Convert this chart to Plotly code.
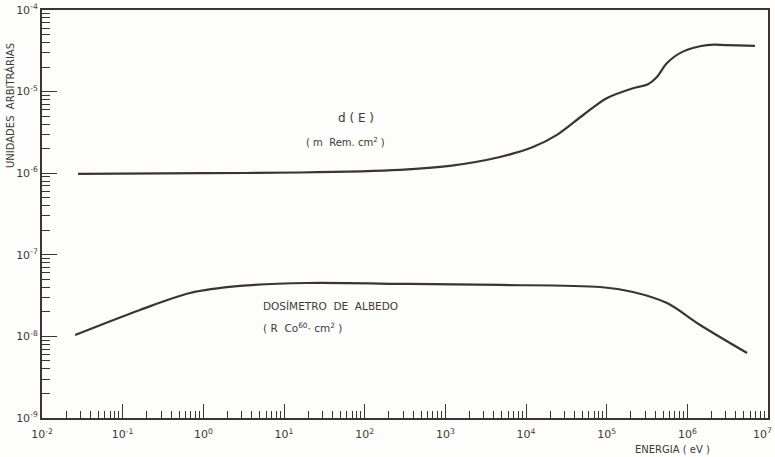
import plotly.graph_objects as go

# d(E) curve (m Rem . cm^2)
dE_energy = [0.028, 1.0, 15.8, 274, 1.14e3, 4.76e3, 1.22e4, 2.42e4, 5.08e4, 1.0e5,
             2.12e5, 3.25e5, 4.2e5, 5.6e5, 8.8e5, 1.75e6, 3.1e6, 6.9e6]
dE_value = [0.98e-6, 1.0e-6, 1.02e-6, 1.1e-6, 1.23e-6, 1.58e-6, 2.09e-6, 2.95e-6, 5.13e-6, 8.3e-6,
            1.10e-5, 1.23e-5, 1.51e-5, 2.24e-5, 3.09e-5, 3.72e-5, 3.72e-5, 3.63e-5]

# Dosimetro de albedo curve (R Co60 . cm^2)
alb_energy = [0.0257, 0.164, 0.684, 2.85, 19.3, 365, 4.75e3, 8.26e4, 2.12e5, 5.6e5, 1.44e6, 5.5e6]
alb_value = [1.04e-8, 2.11e-8, 3.40e-8, 4.15e-8, 4.51e-8, 4.39e-8, 4.27e-8, 4.03e-8, 3.50e-8,
             2.56e-8, 1.38e-8, 6.26e-9]

x_exps = list(range(-2, 8))
y_exps = list(range(-9, -3))
x_ticktext = ["10<sup>%d</sup>" % e for e in x_exps]
y_ticktext = ["10<sup>%d</sup>" % e for e in y_exps]

ink = "#3a3530"
txt = "#3d3935"
minor_x = [k * 10.0 ** e for e in x_exps[:-1] for k in range(2, 10)]
minor_y = [k * 10.0 ** e for e in y_exps[:-1] for k in range(2, 10)]

fig = go.Figure()
fig.add_trace(go.Scatter(x=dE_energy, y=dE_value, mode="lines",
                         line=dict(color=ink, width=2.2, shape="spline", smoothing=0.9),
                         showlegend=False))
fig.add_trace(go.Scatter(x=alb_energy, y=alb_value, mode="lines",
                         line=dict(color=ink, width=2.2, shape="spline", smoothing=0.9),
                         showlegend=False))

font_tick = dict(family="DejaVu Sans", size=11, color=txt)
# last x label (at the right frame edge) is drawn as an annotation so it stays inside the page
fig.update_xaxes(type="log", range=[-2, 7], showgrid=False, zeroline=False,
                 showline=True, linecolor=ink, linewidth=2, mirror=True,
                 tickmode="array", tickvals=[10.0 ** e for e in x_exps],
                 ticktext=x_ticktext[:-1] + [""],
                 ticks="inside", ticklen=14, tickwidth=1, tickcolor=ink, tickfont=font_tick,
                 ticklabelstandoff=5, automargin=False,
                 minor=dict(tickmode="array", tickvals=minor_x, ticks="inside", ticklen=7,
                            tickwidth=1, tickcolor=ink, showgrid=False))
fig.update_yaxes(type="log", range=[-9, -4], showgrid=False, zeroline=False,
                 showline=True, linecolor=ink, linewidth=2, mirror=True,
                 tickmode="array", tickvals=[10.0 ** e for e in y_exps], ticktext=y_ticktext,
                 ticks="inside", ticklen=15, tickwidth=1, tickcolor=ink, tickfont=font_tick,
                 ticklabeloverflow="allow", automargin=False,
                 minor=dict(tickmode="array", tickvals=minor_y, ticks="inside", ticklen=8,
                            tickwidth=1, tickcolor=ink, showgrid=False))

W, H = 775, 457
ML, MR, MT, MB = 42, 7, 10, 39


def px_to_paper(px, py):
    return (px - ML) / (W - ML - MR), (H - MB - py) / (H - MT - MB)


# (text, x px, y px, size, anchor, angle)
labels = [
    ("UNIDADES  ARBITRÁRIAS", 10, 106, 10, "center", -90),
    ("ENERGIA ( eV )", 672, 449, 10, "center", 0),
    ("d ( E )", 356, 118, 12, "center", 0),
    ("( m  Rem. cm<sup>2</sup> )", 345, 142, 10, "center", 0),
    ("DOSÍMETRO  DE  ALBEDO", 261, 306, 10.5, "left", 0),
    ("( R  Co<sup>60</sup>· cm<sup>2</sup> )", 261, 327, 10.5, "left", 0),
    (x_ticktext[-1], 774, 433, 11, "right", 0),
]
for text, px, py, size, anchor, angle in labels:
    xp, yp = px_to_paper(px, py)
    fig.add_annotation(text=text, xref="paper", yref="paper", x=xp, y=yp,
                       showarrow=False, textangle=angle,
                       font=dict(family="DejaVu Sans", size=size, color=txt),
                       xanchor=anchor, yanchor="middle")

fig.update_layout(width=W, height=H, margin=dict(l=ML, r=MR, t=MT, b=MB),
                  paper_bgcolor="#fdfdfb", plot_bgcolor="#fdfdfb")
fig.write_html("out.html")
